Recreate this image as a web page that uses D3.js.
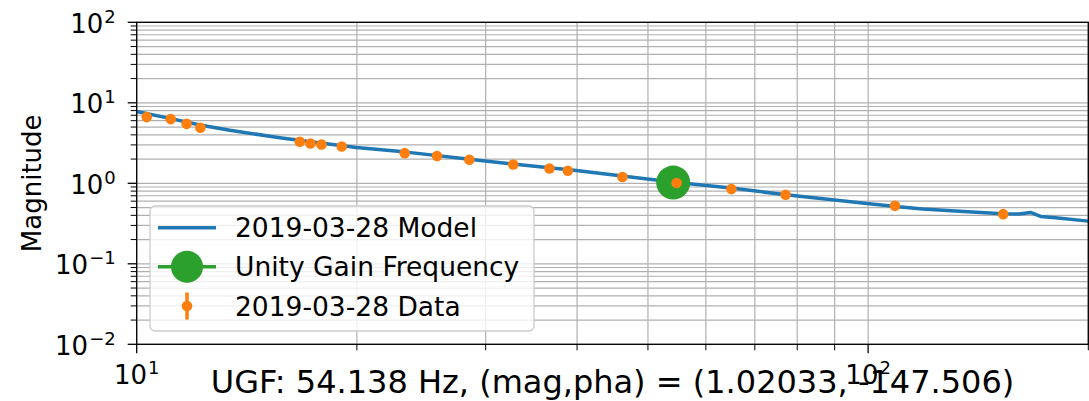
<!DOCTYPE html>
<html>
<head>
<meta charset="utf-8">
<script src="https://cdn.jsdelivr.net/npm/d3@7"></script>
<style>
  body { margin: 0; background: #fff; }
  svg { display: block; font-family: "DejaVu Sans", sans-serif; }
</style>
</head>
<body>
<svg id="bode" width="1089" height="401"></svg>
<script>
// values
var modelFreq = [10, 11.1, 12.2, 13.41, 15.69, 17.5, 19.97, 23.37, 29.73, 39.9, 49.9, 56.95, 64.96, 77.2, 91.3, 100.3, 109.1, 118.7, 138.8, 152.6, 160.8, 166.8, 172.1, 180.4, 200];
var modelMag  = [7.8, 6.4, 5.3, 4.56, 3.68, 3.23, 2.78, 2.44, 1.90, 1.44, 1.13, 0.986, 0.872, 0.72, 0.611, 0.556, 0.515, 0.478, 0.439, 0.418, 0.415, 0.434, 0.387, 0.373, 0.339];

var dataFreq = [10.32, 11.13, 11.70, 12.22, 16.71, 17.28, 17.89, 19.07, 23.25, 25.74, 28.50, 32.72, 36.67, 38.85, 46.14, 54.72, 65.02, 77.12, 108.8, 153.0];
var dataMag  = [6.64, 6.27, 5.48, 4.89, 3.28, 3.12, 3.03, 2.87, 2.37, 2.18, 1.96, 1.71, 1.53, 1.43, 1.20, 1.01, 0.847, 0.72, 0.525, 0.414];

var ugfFreq = [54.138];
var ugfMag  = [1.02033];

var xMajor = [10, 100];
var xMajorExp = ["1", "2"];
var xMinor = [20, 30, 40, 50, 60, 70, 80, 90, 200];
var yMajor = [0.01, 0.1, 1, 10, 100];
var yMajorExp = ["\u22122", "\u22121", "0", "1", "2"];

var legendLabels = ["2019-03-28 Model", "Unity Gain Frequency", "2019-03-28 Data"];
var titleText = "UGF: 54.138 Hz, (mag,pha) = (1.02033, -147.506)";

var blue = "#1f77b4", orange = "#ff7f0e", green = "#2ca02c";

var svg = d3.select("#bode");
var axLeft = 136.7, axRight = 1088.3, axTop = 22.3, axBottom = 344.3;

var x = d3.scaleLog().domain([10, 200]).range([axLeft, axRight]);
var y = d3.scaleLog().domain([0.01, 100]).range([axBottom, axTop]);

// y minor ticks 2..9 per decade
var yMinor = [];
yMajor.slice(0, -1).forEach(function(d) {
    for (var k = 2; k <= 9; k++) yMinor.push(d * k);
});

// grid
var grid = svg.append("g").attr("stroke", "#b0b0b0").attr("stroke-width", 1.2);
yMajor.concat(yMinor).forEach(function(v) {
    grid.append("line").attr("x1", axLeft).attr("x2", axRight).attr("y1", y(v)).attr("y2", y(v));
});
xMajor.concat(xMinor).forEach(function(v) {
    grid.append("line").attr("y1", axTop).attr("y2", axBottom).attr("x1", x(v)).attr("x2", x(v));
});

svg.append("clipPath").attr("id", "clip")
    .append("rect").attr("x", axLeft).attr("y", axTop).attr("width", axRight - axLeft).attr("height", axBottom - axTop);

var plot = svg.append("g").attr("clip-path", "url(#clip)");

var line = d3.line()
    .x(function(d, i) { return x(modelFreq[i]); })
    .y(function(d, i) { return y(modelMag[i]); });

plot.append("path")
    .attr("d", line(modelFreq))
    .attr("fill", "none")
    .attr("stroke", blue)
    .attr("stroke-width", 3.5)
    .attr("stroke-linejoin", "round");

plot.selectAll(".ugf").data(ugfFreq).enter().append("circle")
    .attr("cx", function(d) { return x(d); })
    .attr("cy", function(d, i) { return y(ugfMag[i]); })
    .attr("r", 17)
    .attr("fill", green);

plot.selectAll(".pt").data(dataFreq).enter().append("circle")
    .attr("cx", function(d) { return x(d); })
    .attr("cy", function(d, i) { return y(dataMag[i]); })
    .attr("r", 5.3)
    .attr("fill", orange);

// spines
svg.append("rect")
    .attr("x", axLeft).attr("y", axTop).attr("width", axRight - axLeft).attr("height", axBottom - axTop)
    .attr("fill", "none").attr("stroke", "black").attr("stroke-width", 1.3);

// ticks
var ticks = svg.append("g").attr("stroke", "black");
xMajor.forEach(function(v) {
    ticks.append("line").attr("x1", x(v)).attr("x2", x(v)).attr("y1", axBottom).attr("y2", axBottom + 9).attr("stroke-width", 1.3);
});
xMinor.forEach(function(v) {
    ticks.append("line").attr("x1", x(v)).attr("x2", x(v)).attr("y1", axBottom).attr("y2", axBottom + 6).attr("stroke-width", 1);
});
yMajor.forEach(function(v) {
    ticks.append("line").attr("y1", y(v)).attr("y2", y(v)).attr("x1", axLeft - 9).attr("x2", axLeft).attr("stroke-width", 1.3);
});
yMinor.forEach(function(v) {
    ticks.append("line").attr("y1", y(v)).attr("y2", y(v)).attr("x1", axLeft - 6).attr("x2", axLeft).attr("stroke-width", 1);
});

// tick labels
function powLabel(g, px, py, exp, anchor) {
    var t = g.append("text").attr("x", px).attr("y", py).attr("text-anchor", anchor)
        .attr("font-size", 26).attr("fill", "black");
    t.append("tspan").text("10");
    t.append("tspan").attr("dy", -10).attr("dx", 1).attr("font-size", 18).text(exp);
}
var labels = svg.append("g");
xMajor.forEach(function(v, i) {
    powLabel(labels, x(v), axBottom + 40, xMajorExp[i], "middle");
});
yMajor.forEach(function(v, i) {
    powLabel(labels, axLeft - 21, y(v) + 10.5, yMajorExp[i], "end");
});

svg.append("text")
    .attr("transform", "translate(41," + ((axTop + axBottom) / 2) + ") rotate(-90)")
    .attr("text-anchor", "middle")
    .attr("font-size", 26)
    .text("Magnitude");

svg.append("text")
    .attr("x", (axLeft + axRight) / 2).attr("y", 393)
    .attr("text-anchor", "middle")
    .attr("font-size", 32)
    .text(titleText);

// legend
var lg = svg.append("g");
lg.append("rect")
    .attr("x", 150).attr("y", 206).attr("width", 384).attr("height", 125).attr("rx", 5)
    .attr("fill", "white").attr("fill-opacity", 0.8)
    .attr("stroke", "#cccccc").attr("stroke-width", 1.3);

var rowY = [227.7, 266.7, 306];
lg.append("line").attr("x1", 158).attr("x2", 216).attr("y1", rowY[0]).attr("y2", rowY[0])
    .attr("stroke", blue).attr("stroke-width", 3.5);
lg.append("line").attr("x1", 158).attr("x2", 216).attr("y1", rowY[1]).attr("y2", rowY[1])
    .attr("stroke", green).attr("stroke-width", 3.5);
lg.append("circle").attr("cx", 187).attr("cy", rowY[1]).attr("r", 16).attr("fill", green);
lg.append("line").attr("x1", 187).attr("x2", 187).attr("y1", rowY[2] - 13.5).attr("y2", rowY[2] + 13.5)
    .attr("stroke", orange).attr("stroke-width", 3.5);
lg.append("circle").attr("cx", 187).attr("cy", rowY[2]).attr("r", 5.3).attr("fill", orange);

lg.selectAll(".lt").data(legendLabels).enter().append("text")
    .attr("x", 235)
    .attr("y", function(d, i) { return rowY[i] + 9.5; })
    .attr("font-size", 26.5)
    .text(function(d) { return d; });
</script>
</body>
</html>
